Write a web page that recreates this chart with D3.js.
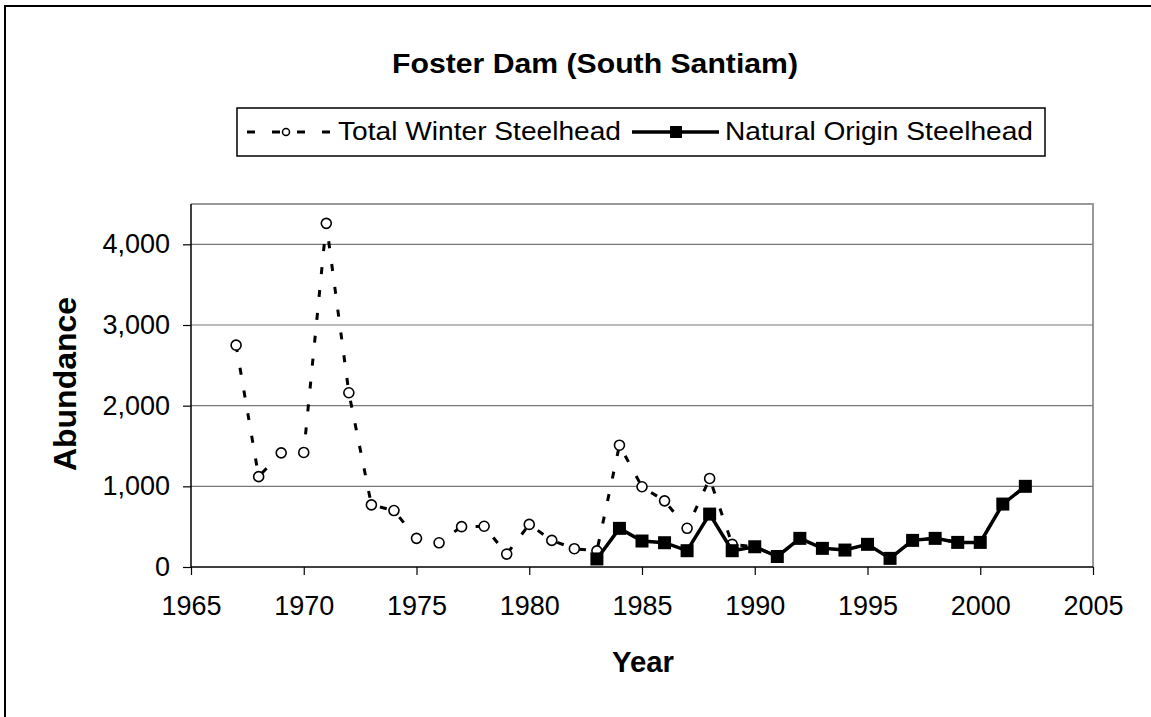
<!DOCTYPE html>
<html><head><meta charset="utf-8">
<script src="https://cdn.jsdelivr.net/npm/d3@7"></script>
<style>
html,body{margin:0;padding:0;background:#fff;}
svg{display:block;font-family:"Liberation Sans",Arial,sans-serif;}
</style></head>
<body>
<svg id="chart" width="1151" height="717"></svg>
<script>
const years = [1967,1968,1969,1970,1971,1972,1973,1974,1975,1976,1977,1978,1979,1980,1981,1982,1983,1984,1985,1986,1987,1988,1989,1990,1991,1992,1993,1994,1995,1996,1997,1998,1999,2000,2001,2002];
const totalWinter = [2750,1120,1415,1420,4260,2160,770,700,355,300,500,505,160,528,330,227,200,1510,995,820,480,1098,281,251,130,355,231,210,281,107,330,355,305,305,780,1000];
const naturalYears = [1983,1984,1985,1986,1987,1988,1989,1990,1991,1992,1993,1994,1995,1996,1997,1998,1999,2000,2001,2002];
const naturalOrigin = [100,479,322,301,202,656,202,251,130,355,231,210,281,107,330,355,305,305,780,1000];
const xTicks = [1965,1970,1975,1980,1985,1990,1995,2000,2005];
const yTicks = [0,1000,2000,3000,4000];
const seriesNames = ["Total Winter Steelhead","Natural Origin Steelhead"];
const titleText = "Foster Dam (South Santiam)";

const svg = d3.select("#chart");
const x = d3.scaleLinear().domain([1965,2005]).range([191,1093]);
const y = d3.scaleLinear().domain([0,4500]).range([567,204]);

// outer border
svg.append("rect").attr("x",5).attr("y",6).attr("width",1300).attr("height",900)
  .attr("fill","none").attr("stroke","#000").attr("stroke-width",2);

// title
svg.append("text").attr("x",392).attr("y",73)
  .attr("font-size",28).attr("font-weight","bold")
  .attr("textLength",406).attr("lengthAdjust","spacingAndGlyphs").text(titleText);

// plot border top/right
svg.append("path").attr("d",`M${x(1965)},${y(4500)}H${x(2005)}V${y(0)}`)
  .attr("fill","none").attr("stroke","#999").attr("stroke-width",2);

// gridlines
svg.append("g").selectAll("line").data(yTicks.filter(d=>d>0)).join("line")
  .attr("x1",x(1965)).attr("x2",x(2005)).attr("y1",d=>y(d)).attr("y2",d=>y(d))
  .attr("stroke","#777").attr("stroke-width",1.2);

// axes
const yAxis = d3.axisLeft(y).tickValues(yTicks).tickSize(8).tickPadding(13).tickFormat(d3.format(","));
const gy = svg.append("g").attr("transform",`translate(${x(1965)},0)`).call(yAxis);
gy.select(".domain").attr("d",`M0,${y(4500)}V${y(0)}`).attr("stroke","#000").attr("stroke-width",1.5);
gy.selectAll("line").attr("stroke","#000").attr("stroke-width",1.2);
gy.selectAll("text").attr("font-size",27).attr("font-family","Liberation Sans, Arial, sans-serif").attr("fill","#000");

const xAxis = d3.axisBottom(x).tickValues(xTicks).tickSize(8).tickPadding(21).tickFormat(d3.format("d"));
const gx = svg.append("g").attr("transform",`translate(0,${y(0)})`).call(xAxis);
gx.select(".domain").attr("d",`M${x(1965)},0H${x(2005)}`).attr("stroke","#000").attr("stroke-width",1.5);
gx.selectAll("line").attr("stroke","#000").attr("stroke-width",1.2);
gx.selectAll("text").attr("font-size",27).attr("font-family","Liberation Sans, Arial, sans-serif").attr("fill","#000");

// axis titles
svg.append("text").attr("transform","translate(76,471) rotate(-90)")
  .attr("font-size",31).attr("font-weight","bold")
  .attr("textLength",174).attr("lengthAdjust","spacingAndGlyphs").text("Abundance");
svg.append("text").attr("x",612).attr("y",672)
  .attr("font-size",30).attr("font-weight","bold")
  .attr("textLength",62).attr("lengthAdjust","spacingAndGlyphs").text("Year");

// series
const totalData = years.map((yr,i)=>({yr,v:totalWinter[i]}));
const natData = naturalYears.map((yr,i)=>({yr,v:naturalOrigin[i]}));
const line = d3.line().x(d=>x(d.yr)).y(d=>y(d.v));

svg.append("path").datum(totalData).attr("d",line).attr("fill","none")
  .attr("stroke","#000").attr("stroke-width",3).attr("stroke-dasharray","7,16");
svg.append("g").selectAll("circle").data(totalData).join("circle")
  .attr("cx",d=>x(d.yr)).attr("cy",d=>y(d.v)).attr("r",5)
  .attr("fill","#fff").attr("stroke","#000").attr("stroke-width",1.6);

svg.append("path").datum(natData).attr("d",line).attr("fill","none")
  .attr("stroke","#000").attr("stroke-width",3.5);
const sq = 13;
svg.append("g").selectAll("rect").data(natData).join("rect")
  .attr("x",d=>x(d.yr)-sq/2).attr("y",d=>y(d.v)-sq/2).attr("width",sq).attr("height",sq)
  .attr("fill","#000");

// legend
const lg = svg.append("g");
lg.append("rect").attr("x",237).attr("y",108).attr("width",808).attr("height",48)
  .attr("fill","#fff").attr("stroke","#000").attr("stroke-width",1.5);
lg.append("line").attr("x1",247).attr("x2",330).attr("y1",132).attr("y2",132)
  .attr("stroke","#000").attr("stroke-width",3).attr("stroke-dasharray","8,17");
lg.append("circle").attr("cx",286).attr("cy",132).attr("r",3.5).attr("fill","#fff").attr("stroke","#000").attr("stroke-width",1.5);
lg.append("text").attr("x",338).attr("y",140).attr("font-size",25)
  .attr("textLength",283).attr("lengthAdjust","spacingAndGlyphs").text(seriesNames[0]);
lg.append("line").attr("x1",632).attr("x2",719).attr("y1",132).attr("y2",132)
  .attr("stroke","#000").attr("stroke-width",3.5);
lg.append("rect").attr("x",670).attr("y",126).attr("width",12).attr("height",12).attr("fill","#000");
lg.append("text").attr("x",725).attr("y",140).attr("font-size",25)
  .attr("textLength",308).attr("lengthAdjust","spacingAndGlyphs").text(seriesNames[1]);
</script>
</body></html>
